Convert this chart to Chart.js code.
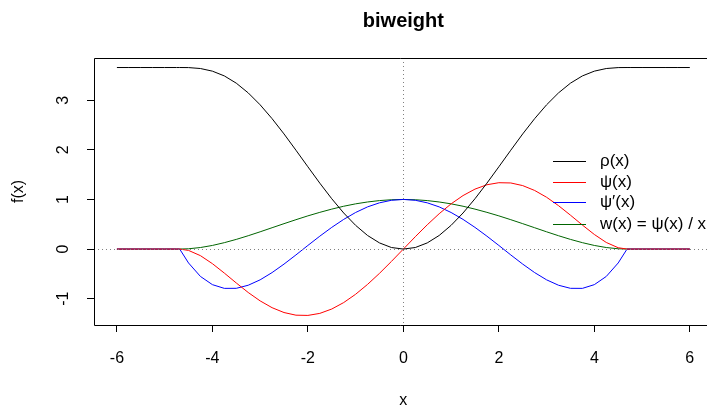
<!DOCTYPE html>
<html>
<head>
<meta charset="utf-8">
<script src="https://cdn.jsdelivr.net/npm/chart.js@4/dist/chart.umd.min.js"></script>
<style>
  html, body { margin: 0; padding: 0; background: #fff; }
  #wrap { width: 707px; height: 407px; }
</style>
</head>
<body>
<div id="wrap"><canvas id="chart" width="707" height="407"></canvas></div>
<script>
const FONT = '"Liberation Sans", Arial, sans-serif'

// x grid and the four curves
const xs = [-6, -5.75, -5.5, -5.25, -5, -4.75, -4.685, -4.5, -4.25, -4, -3.75, -3.5, -3.25, -3, -2.75, -2.5, -2.25, -2, -1.75, -1.5, -1.25, -1, -0.75, -0.5, -0.25,
            0, 0.25, 0.5, 0.75, 1, 1.25, 1.5, 1.75, 2, 2.25, 2.5, 2.75, 3, 3.25, 3.5, 3.75, 4, 4.25, 4.5, 4.685, 4.75, 5, 5.25, 5.5, 5.75, 6]
const rho = [3.658, 3.658, 3.658, 3.658, 3.658, 3.658, 3.658, 3.657, 3.638, 3.585, 3.489, 3.343, 3.147, 2.907, 2.628, 2.320, 1.992, 1.658, 1.328, 1.014, 0.727, 0.478, 0.274, 0.124, 0.031,
             0, 0.031, 0.124, 0.274, 0.478, 0.727, 1.014, 1.328, 1.658, 1.992, 2.320, 2.628, 2.907, 3.147, 3.343, 3.489, 3.585, 3.638, 3.657, 3.658, 3.658, 3.658, 3.658, 3.658, 3.658, 3.658]
const psi = [0, 0, 0, 0, 0, 0, 0, -0.027, -0.133, -0.294, -0.484, -0.683, -0.875, -1.044, -1.181, -1.279, -1.332, -1.337, -1.296, -1.208, -1.078, -0.911, -0.712, -0.489, -0.249,
             0, 0.249, 0.489, 0.712, 0.911, 1.078, 1.208, 1.296, 1.337, 1.332, 1.279, 1.181, 1.044, 0.875, 0.683, 0.484, 0.294, 0.133, 0.027, 0, 0, 0, 0, 0, 0, 0]
const dpsi = [0, 0, 0, 0, 0, 0, 0, -0.280, -0.552, -0.717, -0.792, -0.791, -0.729, -0.620, -0.474, -0.303, -0.118, 0.073, 0.260, 0.437, 0.598, 0.737, 0.850, 0.932, 0.983,
              1, 0.983, 0.932, 0.850, 0.737, 0.598, 0.437, 0.260, 0.073, -0.118, -0.303, -0.474, -0.620, -0.729, -0.791, -0.792, -0.717, -0.552, -0.280, 0, 0, 0, 0, 0, 0, 0]
const wgt = [0, 0, 0, 0, 0, 0, 0, 0.006, 0.031, 0.073, 0.129, 0.195, 0.269, 0.348, 0.430, 0.512, 0.592, 0.669, 0.740, 0.805, 0.863, 0.911, 0.949, 0.977, 0.994,
             1, 0.994, 0.977, 0.949, 0.911, 0.863, 0.805, 0.740, 0.669, 0.592, 0.512, 0.430, 0.348, 0.269, 0.195, 0.129, 0.073, 0.031, 0.006, 0, 0, 0, 0, 0, 0, 0]

const labels = ['ρ(x)', 'ψ(x)', 'ψ′(x)', 'w(x) = ψ(x) / x']
const colors = ['#000000', '#ff0000', '#0000ff', '#006400']
const xTicks = [-6, -4, -2, 0, 2, 4, 6]
const yTicks = [-1, 0, 1, 2, 3]

function toPoints(ys) {
    return xs.map((x, i) => ({ x: x, y: ys[i] }))
}

const series = [rho, psi, dpsi, wgt]

const rPlot = {
    id: 'rPlot',
    afterDraw(chart) {
        const ctx = chart.ctx
        const a = chart.chartArea
        const xs_ = chart.scales.x
        const ys_ = chart.scales.y
        const midX = xs_.getPixelForValue(0)
        ctx.save()

        // dotted reference lines
        ctx.strokeStyle = '#808080'
        ctx.lineWidth = 1
        ctx.setLineDash([1, 3])
        const x0 = Math.round(midX) + 0.5
        const y0 = Math.round(ys_.getPixelForValue(0)) + 0.5
        ctx.beginPath()
        ctx.moveTo(x0, a.top); ctx.lineTo(x0, a.bottom)
        ctx.moveTo(a.left, y0); ctx.lineTo(a.right, y0)
        ctx.stroke()
        ctx.setLineDash([])

        // box (right side falls off the canvas)
        ctx.strokeStyle = '#000'
        ctx.beginPath()
        ctx.moveTo(a.right, a.top + 0.5)
        ctx.lineTo(a.left + 0.5, a.top + 0.5)
        ctx.lineTo(a.left + 0.5, a.bottom + 0.5)
        ctx.lineTo(a.right, a.bottom + 0.5)
        ctx.stroke()

        // y tick labels, rotated like R
        ctx.fillStyle = '#000'
        ctx.font = '16px ' + FONT
        ctx.textAlign = 'center'
        ctx.textBaseline = 'middle'
        yTicks.forEach(v => {
            ctx.save()
            ctx.translate(64, ys_.getPixelForValue(v))
            ctx.rotate(-Math.PI / 2)
            ctx.fillText(String(v), 0, 0)
            ctx.restore()
        })

        // axis titles
        ctx.fillText('x', midX, 401)
        ctx.save()
        ctx.translate(19, (a.top + a.bottom) / 2)
        ctx.rotate(-Math.PI / 2)
        ctx.fillText('f(x)', 0, 0)
        ctx.restore()

        // title
        ctx.font = 'bold 20px ' + FONT
        ctx.fillText('biweight', midX, 21)

        // legend
        const rows = [161, 182, 202, 224]
        ctx.font = '17px ' + FONT
        ctx.textAlign = 'left'
        labels.forEach((lab, i) => {
            ctx.strokeStyle = colors[i]
            ctx.beginPath()
            ctx.moveTo(553, rows[i] + 0.5)
            ctx.lineTo(586, rows[i] + 0.5)
            ctx.stroke()
            ctx.fillStyle = '#000'
            ctx.fillText(lab, 600, rows[i])
        })
        ctx.restore()
    }
}

new Chart(document.getElementById('chart').getContext('2d'), {
    type: 'scatter',
    data: {
        datasets: series.map((ys, i) => ({
            label: labels[i],
            data: toPoints(ys),
            showLine: true,
            borderColor: colors[i],
            backgroundColor: colors[i],
            borderWidth: 1,
            pointRadius: 0,
            tension: 0
        }))
    },
    options: {
        responsive: false,
        animation: false,
        events: [],
        layout: { padding: { left: 0, top: 58, right: 0, bottom: 0 } },
        plugins: {
            legend: { display: false },
            tooltip: { enabled: false }
        },
        scales: {
            x: {
                type: 'linear',
                min: -6.48,
                max: 6.36,
                afterBuildTicks: s => { s.ticks = xTicks.map(v => ({ value: v })) },
                afterFit: s => { s.height = 82; s.paddingLeft = 0; s.paddingRight = 0 },
                border: { display: false },
                grid: { drawOnChartArea: false, drawTicks: true, tickLength: 7, color: '#000' },
                ticks: { color: '#000', padding: 17, maxRotation: 0, font: { family: FONT, size: 16 } }
            },
            y: {
                type: 'linear',
                min: -1.53,
                max: 3.85,
                afterBuildTicks: s => { s.ticks = yTicks.map(v => ({ value: v })) },
                afterFit: s => { s.width = 94; s.paddingTop = 0; s.paddingBottom = 0 },
                border: { display: false },
                grid: { drawOnChartArea: false, drawTicks: true, tickLength: 7, color: '#000' },
                ticks: { display: false }
            }
        }
    },
    plugins: [rPlot]
});
</script>
</body>
</html>
